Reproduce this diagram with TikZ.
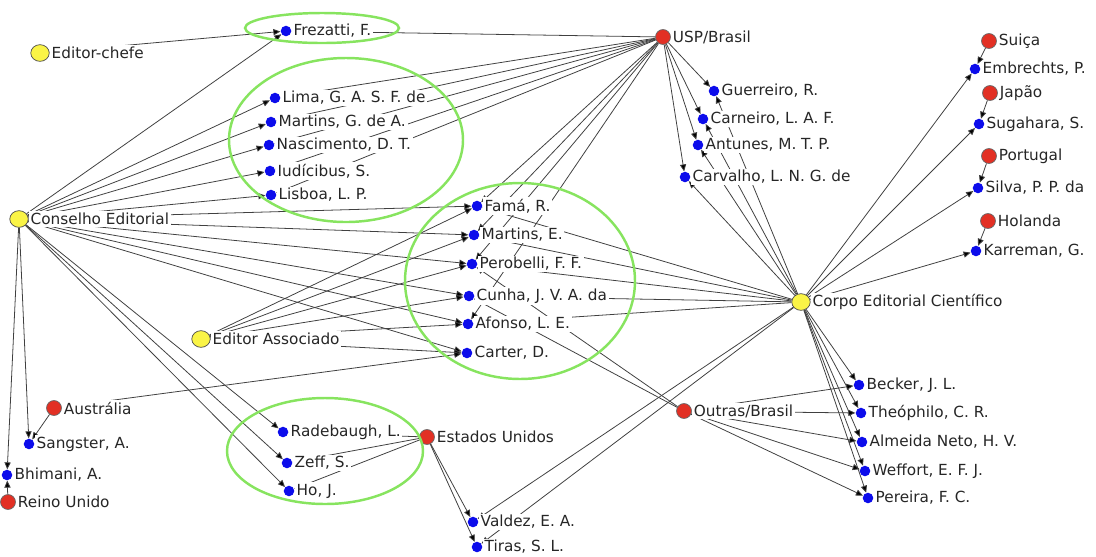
\documentclass[tikz,border=0pt]{standalone}
\usepackage{fontspec}
\setmainfont{DejaVu Sans}
\usetikzlibrary{arrows.meta,backgrounds,shapes.geometric}

\definecolor{amarelo}{RGB}{250,244,70}
\definecolor{vermelho}{RGB}{226,48,36}
\definecolor{azul}{RGB}{12,12,235}
\definecolor{verde}{RGB}{135,228,95}

\begin{document}
\begin{tikzpicture}[x=0.02cm, y=-0.02cm,
  every label/.style={font=\fontsize{8.7}{10}\selectfont, text=black!85, fill=white, inner sep=1pt},
  funcao/.style={ellipse, draw=black!70, fill=amarelo, minimum width=10.5pt, minimum height=9.5pt, inner sep=0pt},
  pais/.style={circle, draw=black!60, fill=vermelho, minimum size=8.5pt, inner sep=0pt},
  pessoa/.style={circle, fill=azul, minimum size=6pt, inner sep=0pt},
  liga/.style={draw=black!75, line width=0.45pt, -{Triangle[length=4pt,width=3.5pt]}},
  grupo/.style={draw=verde, line width=1.4pt}]
  \useasboundingbox (0,0) rectangle (1096,556);

  % Funcoes editoriais
  \node[funcao, label={right:Editor-chefe}] (chefe) at (40,53) {};
  \node[funcao, label={right:Conselho Editorial}] (conselho) at (19,219) {};
  \node[funcao, label={right:Editor Associado}] (associado) at (201,339) {};
  \node[funcao, label={right:Corpo Editorial Científico}] (corpo) at (801,302) {};

  % Paises e instituicoes
  \node[pais, label={right:USP/Brasil}] (usp) at (663,37) {};
  \node[pais, label={right:Suiça}] (suica) at (989,41) {};
  \node[pais, label={right:Japão}] (japao) at (990,93) {};
  \node[pais, label={right:Portugal}] (portugal) at (989,156) {};
  \node[pais, label={right:Holanda}] (holanda) at (988,221) {};
  \node[pais, label={right:Austrália}] (australia) at (54,408) {};
  \node[pais, label={right:Reino Unido}] (reino) at (8,502) {};
  \node[pais, label={right:Estados Unidos}] (eua) at (427,437) {};
  \node[pais, label={right:Outras/Brasil}] (outras) at (684,411) {};

  % Pessoas
  \node[pessoa, label={right:Frezatti, F.}] (frezatti) at (286,31) {};
  \node[pessoa, label={right:Lima, G. A. S. F. de}] (lima) at (275,98) {};
  \node[pessoa, label={right:Martins, G. de A.}] (martinsga) at (271,122) {};
  \node[pessoa, label={right:Nascimento, D. T.}] (nascimento) at (269,145) {};
  \node[pessoa, label={right:Iudícibus, S.}] (iudicibus) at (270,171) {};
  \node[pessoa, label={right:Lisboa, L. P.}] (lisboa) at (271,195) {};
  \node[pessoa, label={right:Famá, R.}] (fama) at (477,206) {};
  \node[pessoa, label={right:Martins, E.}] (martinse) at (474,235) {};
  \node[pessoa, label={right:Perobelli, F. F.}] (perobelli) at (472,264) {};
  \node[pessoa, label={right:Cunha, J. V. A. da}] (cunha) at (469,296) {};
  \node[pessoa, label={right:Afonso, L. E.}] (afonso) at (468,324) {};
  \node[pessoa, label={right:Carter, D.}] (carter) at (467,353) {};
  \node[pessoa, label={right:Guerreiro, R.}] (guerreiro) at (714,91) {};
  \node[pessoa, label={right:Carneiro, L. A. F.}] (carneiro) at (703,119) {};
  \node[pessoa, label={right:Antunes, M. T. P.}] (antunes) at (698,145) {};
  \node[pessoa, label={right:Carvalho, L. N. G. de}] (carvalho) at (685,177) {};
  \node[pessoa, label={right:Embrechts, P.}] (embrechts) at (975,69) {};
  \node[pessoa, label={right:Sugahara, S.}] (sugahara) at (979,124) {};
  \node[pessoa, label={right:Silva, P. P. da}] (silva) at (978,188) {};
  \node[pessoa, label={right:Karreman, G.}] (karreman) at (976,251) {};
  \node[pessoa, label={right:Sangster, A.}] (sangster) at (29,444) {};
  \node[pessoa, label={right:Bhimani, A.}] (bhimani) at (7,475) {};
  \node[pessoa, label={right:Radebaugh, L.}] (radebaugh) at (283,432) {};
  \node[pessoa, label={right:Zeff, S.}] (zeff) at (287,463) {};
  \node[pessoa, label={right:Ho, J.}] (ho) at (289,491) {};
  \node[pessoa, label={right:Valdez, E. A.}] (valdez) at (473,522) {};
  \node[pessoa, label={right:Tiras, S. L.}] (tiras) at (477,547) {};
  \node[pessoa, label={right:Becker, J. L.}] (becker) at (859,385) {};
  \node[pessoa, label={right:Theóphilo, C. R.}] (theophilo) at (861,413) {};
  \node[pessoa, label={right:Almeida Neto, H. V.}] (almeida) at (862,442) {};
  \node[pessoa, label={right:Weffort, E. F. J.}] (weffort) at (865,471) {};
  \node[pessoa, label={right:Pereira, F. C.}] (pereira) at (868,498) {};

  % Ligacoes (atras dos rotulos)
  \begin{scope}[on background layer]
    \path[liga] (chefe) edge (frezatti);
    \path[liga] (conselho) edge (frezatti) edge (lima) edge (martinsga)
      edge (nascimento) edge (iudicibus) edge (lisboa) edge (fama)
      edge (martinse) edge (perobelli) edge (cunha) edge (afonso)
      edge (carter) edge (radebaugh) edge (zeff) edge (ho)
      edge (sangster) edge (bhimani);
    \path[liga] (associado) edge (fama) edge (martinse) edge (perobelli)
      edge (cunha) edge (afonso) edge (carter);
    \path[liga] (usp) edge (frezatti) edge (lima) edge (martinsga)
      edge (nascimento) edge (iudicibus) edge (lisboa) edge (fama)
      edge (martinse) edge (perobelli) edge (afonso) edge (guerreiro)
      edge (carneiro) edge (antunes) edge (carvalho);
    \path[liga] (corpo) edge (fama) edge (martinse) edge (perobelli)
      edge (cunha) edge (afonso) edge (guerreiro) edge (carneiro)
      edge (antunes) edge (carvalho) edge (embrechts) edge (sugahara)
      edge (silva) edge (karreman) edge (becker) edge (theophilo)
      edge (almeida) edge (weffort) edge (pereira) edge (valdez)
      edge (tiras);
    \path[liga] (outras) edge (becker) edge (theophilo) edge (almeida)
      edge (weffort) edge (pereira) edge (perobelli) edge (cunha);
    \path[liga] (eua) edge (radebaugh) edge (zeff) edge (ho)
      edge (valdez) edge (tiras);
    \path[liga] (australia) edge (sangster) edge (carter);
    \path[liga] (reino) edge (bhimani);
    \path[liga] (suica) edge (embrechts);
    \path[liga] (japao) edge (sugahara);
    \path[liga] (portugal) edge (silva);
    \path[liga] (holanda) edge (karreman);
  \end{scope}

  % Grupos
  \draw[grupo] (322,28) ellipse [x radius=77, y radius=15];
  \draw[grupo] (346,140) ellipse [x radius=117, y radius=82];
  \draw[grupo] (520,281) ellipse [x radius=115, y radius=98];
  \draw[grupo] (325,451) ellipse [x radius=98, y radius=53];
\end{tikzpicture}
\end{document}
